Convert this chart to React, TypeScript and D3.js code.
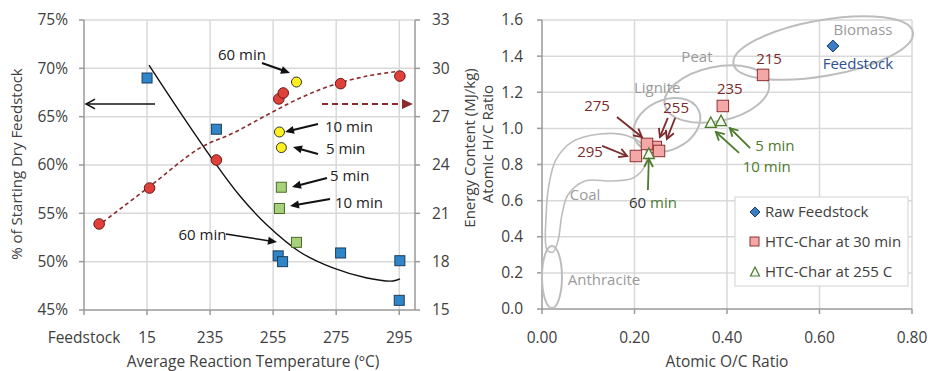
import React from 'react';
import * as d3 from 'd3';

// ---------- LEFT PANEL DATA ----------
const leftCategories = ['Feedstock', '15', '235', '255', '275', '295'];
const leftPctTicks = [45, 50, 55, 60, 65, 70, 75];
const rightEnergyTicks = [15, 18, 21, 24, 27, 30, 33];

// blue squares: % of starting dry feedstock (x in category units)
const yieldX = [1.0, 2.1, 3.08, 3.15, 4.07, 5.01, 5.0];
const yieldPct = [69.0, 63.7, 50.6, 50.0, 50.9, 50.1, 46.0];
// green squares: yield at 255 C for 5, 10, 60 min
const yieldTimeX = [3.13, 3.1, 3.37];
const yieldTimePct = [57.7, 55.5, 52.0];
// red circles: energy content (MJ/kg)
const energyX = [0.24, 1.04, 2.1, 3.09, 3.16, 4.07, 5.01];
const energyMJ = [20.34, 22.57, 24.31, 28.1, 28.47, 29.05, 29.52];
// yellow circles: energy at 255 C for 60, 10, 5 min
const energyTimeX = [3.37, 3.1, 3.13];
const energyTimeMJ = [29.15, 26.05, 25.08];
// trend lines
const yieldTrendX = [1.031, 1.523, 2.046, 2.474, 2.902, 3.426, 3.949, 4.488, 4.901, 5.012];
const yieldTrendPct = [70.34, 65.48, 60.52, 56.79, 53.79, 51.0, 49.35, 48.31, 48.0, 48.21];
const energyTrendX = [0.3, 1.03, 1.84, 2.37, 2.9, 3.43, 3.95, 4.49, 4.9, 4.98];
const energyTrendMJ = [20.46, 22.63, 25.06, 25.99, 27.1, 28.16, 28.97, 29.52, 29.77, 29.8];

// ---------- RIGHT PANEL DATA ----------
const ocTicks = [0, 0.2, 0.4, 0.6, 0.8];
const hcTicks = [0, 0.2, 0.4, 0.6, 0.8, 1.0, 1.2, 1.4, 1.6];
const feedOC = [0.629];
const feedHC = [1.456];
const char30Temp = ['215', '235', '255', '255', '275', '295'];
const char30OC = [0.478, 0.391, 0.246, 0.253, 0.227, 0.203];
const char30HC = [1.296, 1.124, 0.897, 0.875, 0.914, 0.847];
const char255Time = ['60 min', '10 min', '5 min'];
const char255OC = [0.231, 0.365, 0.387];
const char255HC = [0.858, 1.03, 1.04];
// coal-rank regions (ellipses in data units)
const regionNames = ['Biomass', 'Peat', 'Lignite', 'Anthracite'];
const regionCx = [0.608, 0.378, 0.27, 0.0216];
const regionCy = [1.445, 1.19, 1.019, 0.177];
const regionHalfW = [0.197, 0.115, 0.0757, 0.0216];
const regionHalfH = [0.155, 0.15, 0.138, 0.172];
const regionAngle = [-10, -12, -25, 0];
const coalOC = [0.011, 0.009, 0.015, 0.03, 0.065, 0.125, 0.186, 0.223, 0.223, 0.197, 0.151, 0.093, 0.056, 0.043, 0.035, 0.024];
const coalHC = [0.327, 0.52, 0.687, 0.825, 0.925, 0.969, 0.958, 0.891, 0.797, 0.725, 0.709, 0.709, 0.631, 0.52, 0.382, 0.316];

const FONT = "'Open Sans', sans-serif";
const TXT = '#404040';
const GRID = '#d9d9d9';
const AXIS = '#9a9a9a';
const DARKRED = '#7b2b2b';
const GREEN = '#4e7a2e';
const GRAYTXT = '#9a9a9a';
const FS = 15.5; // axis labels / titles
const FA = 15;   // annotations
const FR = 15;   // rotated titles

const xL = d3.scaleLinear().domain([0, 5.25]).range([84, 415]);
const yPct = d3.scaleLinear().domain([45, 75]).range([310, 20]);
const yMJ = d3.scaleLinear().domain([15, 33]).range([310, 20]);
const xR = d3.scaleLinear().domain([0, 0.8]).range([542, 912]);
const yR = d3.scaleLinear().domain([0, 1.6]).range([309, 20]);

type ArrowProps = { x1: number; y1: number; x2: number; y2: number; color: string; head: 'filled' | 'open'; dash?: string; size?: number; w?: number };
function Arrow({ x1, y1, x2, y2, color, head, dash, size = 9, w = 1.6 }: ArrowProps) {
  const a = Math.atan2(y2 - y1, x2 - x1);
  const hw = head === 'filled' ? size * 0.45 : size * 0.55;
  const bx = x2 - size * Math.cos(a);
  const by = y2 - size * Math.sin(a);
  const p1 = [bx + hw * Math.sin(a), by - hw * Math.cos(a)];
  const p2 = [bx - hw * Math.sin(a), by + hw * Math.cos(a)];
  const ex = head === 'filled' ? x2 - size * 0.8 * Math.cos(a) : x2;
  const ey = head === 'filled' ? y2 - size * 0.8 * Math.sin(a) : y2;
  return (
    <g>
      <line x1={x1} y1={y1} x2={ex} y2={ey} stroke={color} strokeWidth={w} strokeDasharray={dash} />
      {head === 'filled' ? (
        <polygon points={`${x2},${y2} ${p1[0]},${p1[1]} ${p2[0]},${p2[1]}`} fill={color} />
      ) : (
        <polyline points={`${p1[0]},${p1[1]} ${x2},${y2} ${p2[0]},${p2[1]}`} fill="none" stroke={color} strokeWidth={w} />
      )}
    </g>
  );
}

function Sq({ x, y, s, fill, stroke }: { x: number; y: number; s: number; fill: string; stroke: string }) {
  return <rect x={x - s / 2} y={y - s / 2} width={s} height={s} fill={fill} stroke={stroke} strokeWidth={1} />;
}

export default function App() {
  const yieldTrend = d3.line<number>().curve(d3.curveCatmullRom.alpha(0.5))
    .x((_, i) => xL(yieldTrendX[i])).y((_, i) => yPct(yieldTrendPct[i]))(yieldTrendX);
  const energyTrend = d3.line<number>().curve(d3.curveCatmullRom.alpha(0.5))
    .x((_, i) => xL(energyTrendX[i])).y((_, i) => yMJ(energyTrendMJ[i]))(energyTrendX);
  const coalPath = d3.line<number>().curve(d3.curveCatmullRomClosed.alpha(0.5))
    .x((_, i) => xR(coalOC[i])).y((_, i) => yR(coalHC[i]))(coalOC);

  const pxPerOC = xR(1) - xR(0);
  const pxPerHC = yR(0) - yR(1);

  return (
    <svg width={928} height={371} style={{ position: 'absolute', left: 0, top: 0, background: '#fff' }} fontFamily={FONT}>
      <rect width={928} height={371} fill="#fff" />
      {/* ================= LEFT PANEL ================= */}
      {leftPctTicks.slice(1).map(t => (
        <line key={'lg' + t} x1={xL(0)} x2={xL(5.25)} y1={yPct(t)} y2={yPct(t)} stroke={GRID} strokeWidth={1.5} />
      ))}
      {leftCategories.slice(1).map((c, i) => (
        <line key={'lv' + c} x1={xL(i + 1)} x2={xL(i + 1)} y1={yPct(45)} y2={yPct(75)} stroke={GRID} strokeWidth={1.5} />
      ))}
      {/* axes */}
      <line x1={xL(0)} x2={xL(0)} y1={yPct(45)} y2={yPct(75)} stroke={AXIS} strokeWidth={1.5} />
      <line x1={xL(5.25)} x2={xL(5.25)} y1={yPct(45)} y2={yPct(75)} stroke={AXIS} strokeWidth={1.5} />
      <line x1={xL(0)} x2={xL(5.25)} y1={yPct(45)} y2={yPct(45)} stroke={AXIS} strokeWidth={1.5} />
      {leftPctTicks.map(t => (
        <g key={'lt' + t}>
          <line x1={xL(0) - 5} x2={xL(0)} y1={yPct(t)} y2={yPct(t)} stroke={AXIS} strokeWidth={1.5} />
          <text x={xL(0) - 16} y={yPct(t)} dy="0.35em" textAnchor="end" fontSize={FS} fill={TXT}>{t}%</text>
        </g>
      ))}
      {rightEnergyTicks.map(t => (
        <g key={'rt' + t}>
          <line x1={xL(5.25)} x2={xL(5.25) + 5} y1={yMJ(t)} y2={yMJ(t)} stroke={AXIS} strokeWidth={1.5} />
          <text x={xL(5.25) + 17} y={yMJ(t)} dy="0.35em" textAnchor="start" fontSize={FS} fill={TXT}>{t}</text>
        </g>
      ))}
      {leftCategories.map((c, i) => (
        <g key={'lc' + c}>
          <line x1={xL(i)} x2={xL(i)} y1={yPct(45)} y2={yPct(45) + 5} stroke={AXIS} strokeWidth={1.5} />
          <text x={xL(i)} y={338} dy="0.35em" textAnchor="middle" fontSize={FS} fill={TXT}>{c}</text>
        </g>
      ))}
      <text x={253} y={362} dy="0.35em" textAnchor="middle" fontSize={FS} fill={TXT}>Average Reaction Temperature (ºC)</text>
      <text transform={`translate(17,164) rotate(-90)`} dy="0.35em" textAnchor="middle" fontSize={FR} fill={TXT}>% of Starting Dry Feedstock</text>
      <text transform={`translate(470,148) rotate(-90)`} dy="0.35em" textAnchor="middle" fontSize={FR} fill={TXT}>Energy Content (MJ/kg)</text>

      {/* trend lines */}
      <path d={yieldTrend || ''} fill="none" stroke="#111" strokeWidth={1.4} />
      <path d={energyTrend || ''} fill="none" stroke="#8b2a2a" strokeWidth={1.6} strokeDasharray="4,3" />

      {/* markers */}
      {yieldX.map((x, i) => (
        <Sq key={'ys' + i} x={xL(x)} y={yPct(yieldPct[i])} s={10} fill="#2e86c8" stroke="#1f3b5c" />
      ))}
      {yieldTimeX.map((x, i) => (
        <Sq key={'yt' + i} x={xL(x)} y={yPct(yieldTimePct[i])} s={10} fill="#a8d17c" stroke="#4a6a2a" />
      ))}
      {energyX.map((x, i) => (
        <circle key={'ec' + i} cx={xL(x)} cy={yMJ(energyMJ[i])} r={5.3} fill="#e0403a" stroke="#6a1a1a" strokeWidth={1} />
      ))}
      {energyTimeX.map((x, i) => (
        <circle key={'et' + i} cx={xL(x)} cy={yMJ(energyTimeMJ[i])} r={5} fill="#fff01e" stroke="#333" strokeWidth={1} />
      ))}

      {/* annotations */}
      <Arrow x1={xL(1.126)} y1={yPct(66.31)} x2={xL(0.032)} y2={yPct(66.31)} color="#111" head="open" size={9} w={1.5} />
      <Arrow x1={xL(3.775)} y1={yPct(66.31)} x2={xL(5.218)} y2={yPct(66.31)} color="#8b2a2a" head="filled" dash="6,4" size={11} w={2} />
      <text x={xL(2.506)} y={yPct(71.38)} dy="0.35em" textAnchor="middle" fontSize={FA} fill="#222">60 min</text>
      <Arrow x1={xL(2.823)} y1={yPct(70.55)} x2={xL(3.267)} y2={yPct(69.52)} color="#111" head="filled" size={9} w={2} />
      <text x={xL(3.822)} y={yPct(63.93)} dy="0.35em" fontSize={FA} fill="#222">10 min</text>
      <Arrow x1={xL(3.711)} y1={yPct(64.24)} x2={xL(3.188)} y2={yPct(63.41)} color="#111" head="filled" size={9} w={2} />
      <text x={xL(3.838)} y={yPct(61.66)} dy="0.35em" fontSize={FA} fill="#222">5 min</text>
      <Arrow x1={xL(3.711)} y1={yPct(61.14)} x2={xL(3.315)} y2={yPct(61.86)} color="#111" head="filled" size={9} w={2} />
      <text x={xL(3.902)} y={yPct(58.86)} dy="0.35em" fontSize={FA} fill="#222">5 min</text>
      <Arrow x1={xL(3.854)} y1={yPct(58.66)} x2={xL(3.299)} y2={yPct(57.72)} color="#111" head="filled" size={9} w={2} />
      <text x={xL(3.981)} y={yPct(56.07)} dy="0.35em" fontSize={FA} fill="#222">10 min</text>
      <Arrow x1={xL(3.902)} y1={yPct(56.48)} x2={xL(3.267)} y2={yPct(55.76)} color="#111" head="filled" size={9} w={2} />
      <text x={xL(2.26)} y={yPct(52.76)} dy="0.35em" textAnchor="end" fontSize={FA} fill="#222">60 min</text>
      <Arrow x1={xL(2.25)} y1={yPct(52.86)} x2={xL(3.061)} y2={yPct(52.03)} color="#111" head="filled" size={9} w={1.6} />

      {/* ================= RIGHT PANEL ================= */}
      {hcTicks.slice(1).map(t => (
        <line key={'rg' + t} x1={xR(0)} x2={xR(0.8)} y1={yR(t)} y2={yR(t)} stroke={GRID} strokeWidth={1.5} />
      ))}
      {ocTicks.slice(1).map(t => (
        <line key={'rv' + t} x1={xR(t)} x2={xR(t)} y1={yR(0)} y2={yR(1.6)} stroke={GRID} strokeWidth={1.5} />
      ))}
      <line x1={xR(0)} x2={xR(0)} y1={yR(0)} y2={yR(1.6)} stroke={AXIS} strokeWidth={1.5} />
      <line x1={xR(0)} x2={xR(0.8)} y1={yR(0)} y2={yR(0)} stroke={AXIS} strokeWidth={1.5} />
      {hcTicks.map(t => (
        <g key={'ht' + t}>
          <line x1={xR(0) - 5} x2={xR(0)} y1={yR(t)} y2={yR(t)} stroke={AXIS} strokeWidth={1.5} />
          <text x={xR(0) - 19} y={yR(t)} dy="0.35em" textAnchor="end" fontSize={FS} fill={TXT}>{t.toFixed(1)}</text>
        </g>
      ))}
      {ocTicks.map(t => (
        <g key={'ot' + t}>
          <line x1={xR(t)} x2={xR(t)} y1={yR(0)} y2={yR(0) + 5} stroke={AXIS} strokeWidth={1.5} />
          <text x={xR(t)} y={338} dy="0.35em" textAnchor="middle" fontSize={FS} fill={TXT}>{t.toFixed(2)}</text>
        </g>
      ))}
      <text x={727} y={362} dy="0.35em" textAnchor="middle" fontSize={FS} fill={TXT}>Atomic O/C Ratio</text>
      <text transform={`translate(488,144) rotate(-90)`} dy="0.35em" textAnchor="middle" fontSize={FR} fill={TXT}>Atomic H/C Ratio</text>

      {/* regions */}
      {regionNames.map((n, i) => (
        <ellipse key={'re' + n} cx={xR(regionCx[i])} cy={yR(regionCy[i])} rx={regionHalfW[i] * pxPerOC} ry={regionHalfH[i] * pxPerHC}
          transform={`rotate(${regionAngle[i]} ${xR(regionCx[i])} ${yR(regionCy[i])})`} fill="none" stroke="#bdbdbd" strokeWidth={2} />
      ))}
      <path d={coalPath || ''} fill="none" stroke="#bdbdbd" strokeWidth={1.6} />
      <text x={xR(0.694)} y={yR(1.545)} dy="0.35em" textAnchor="middle" fontSize={FA} fill={GRAYTXT}>Biomass</text>
      <text x={xR(0.335)} y={yR(1.395)} dy="0.35em" textAnchor="middle" fontSize={FA} fill={GRAYTXT}>Peat</text>
      <text x={xR(0.249)} y={yR(1.224)} dy="0.35em" textAnchor="middle" fontSize={FA} fill={GRAYTXT}>Lignite</text>
      <text x={xR(0.093)} y={yR(0.631)} dy="0.35em" textAnchor="middle" fontSize={FA} fill={GRAYTXT}>Coal</text>
      <text x={xR(0.134)} y={yR(0.161)} dy="0.35em" textAnchor="middle" fontSize={FA} fill={GRAYTXT}>Anthracite</text>
      <text x={xR(0.683)} y={yR(1.357)} dy="0.35em" textAnchor="middle" fontSize={FA} fill="#2f4f8f">Feedstock</text>

      {/* markers */}
      {feedOC.map((x, i) => {
        const cx = xR(x), cy = yR(feedHC[i]);
        return <polygon key={'fd' + i} points={`${cx},${cy - 6} ${cx + 6},${cy} ${cx},${cy + 6} ${cx - 6},${cy}`} fill="#3b7dc4" stroke="#1f3b5c" strokeWidth={1} />;
      })}
      {char30OC.map((x, i) => (
        <Sq key={'c30' + i} x={xR(x)} y={yR(char30HC[i])} s={11.5} fill="#f4a7a7" stroke="#8b3030" />
      ))}
      {char255OC.map((x, i) => {
        const cx = xR(x), cy = yR(char255HC[i]);
        return <polygon key={'c255' + i} points={`${cx},${cy - 6} ${cx + 5.5},${cy + 4.5} ${cx - 5.5},${cy + 4.5}`} fill="#f3f8ee" stroke={GREEN} strokeWidth={1.3} />;
      })}

      {/* temperature labels */}
      <text x={xR(0.491)} y={yR(1.384)} dy="0.35em" textAnchor="middle" fontSize={FA} fill={DARKRED}>{char30Temp[0]}</text>
      <text x={xR(0.406)} y={yR(1.218)} dy="0.35em" textAnchor="middle" fontSize={FA} fill={DARKRED}>{char30Temp[1]}</text>
      <text x={xR(0.29)} y={yR(1.113)} dy="0.35em" textAnchor="middle" fontSize={FA} fill={DARKRED}>{char30Temp[2]}</text>
      <text x={xR(0.119)} y={yR(1.124)} dy="0.35em" textAnchor="middle" fontSize={FA} fill={DARKRED}>{char30Temp[4]}</text>
      <text x={xR(0.104)} y={yR(0.869)} dy="0.35em" textAnchor="middle" fontSize={FA} fill={DARKRED}>{char30Temp[5]}</text>
      <Arrow x1={xR(0.162)} y1={yR(1.063)} x2={xR(0.216)} y2={yR(0.952)} color={DARKRED} head="open" size={8} w={1.8} />
      <Arrow x1={xR(0.13)} y1={yR(0.903)} x2={xR(0.184)} y2={yR(0.847)} color={DARKRED} head="open" size={8} w={1.8} />
      <Arrow x1={xR(0.272)} y1={yR(1.058)} x2={xR(0.255)} y2={yR(0.952)} color={DARKRED} head="open" size={8} w={1.8} />
      <Arrow x1={xR(0.288)} y1={yR(1.058)} x2={xR(0.27)} y2={yR(0.941)} color={DARKRED} head="open" size={8} w={1.8} />

      {/* time labels */}
      <text x={xR(0.461)} y={yR(0.903)} dy="0.35em" fontSize={FA} fill={GREEN}>{char255Time[2]}</text>
      <text x={xR(0.486)} y={yR(0.786)} dy="0.35em" textAnchor="middle" fontSize={FA} fill={GREEN}>{char255Time[1]}</text>
      <text x={xR(0.24)} y={yR(0.587)} dy="0.35em" textAnchor="middle" fontSize={FA} fill={GREEN}><tspan fill="#333">60</tspan> min</text>
      <Arrow x1={xR(0.229)} y1={yR(0.659)} x2={xR(0.231)} y2={yR(0.831)} color={GREEN} head="open" size={8} w={1.8} />
      <Arrow x1={xR(0.45)} y1={yR(0.891)} x2={xR(0.406)} y2={yR(1.002)} color={GREEN} head="open" size={8} w={1.8} />
      <Arrow x1={xR(0.426)} y1={yR(0.864)} x2={xR(0.376)} y2={yR(0.98)} color={GREEN} head="open" size={8} w={1.8} />

      {/* legend */}
      <rect x={735} y={197} width={173} height={89} fill="#fff" stroke="#d9d9d9" strokeWidth={1.2} />
      <polygon points="755,207 760,212 755,217 750,212" fill="#3b7dc4" stroke="#1f3b5c" strokeWidth={1} />
      <text x={765} y={212} dy="0.35em" fontSize={FA} fill={TXT}>Raw Feedstock</text>
      <rect x={750} y={237} width={9} height={9} fill="#f4a7a7" stroke="#8b3030" strokeWidth={1} />
      <text x={765} y={242} dy="0.35em" fontSize={FA} fill={TXT}>HTC-Char at 30 min</text>
      <polygon points="755,267 759.5,276 750.5,276" fill="#f3f8ee" stroke={GREEN} strokeWidth={1.2} />
      <text x={765} y={272} dy="0.35em" fontSize={FA} fill={TXT}>HTC-Char at 255 C</text>
    </svg>
  );
}
